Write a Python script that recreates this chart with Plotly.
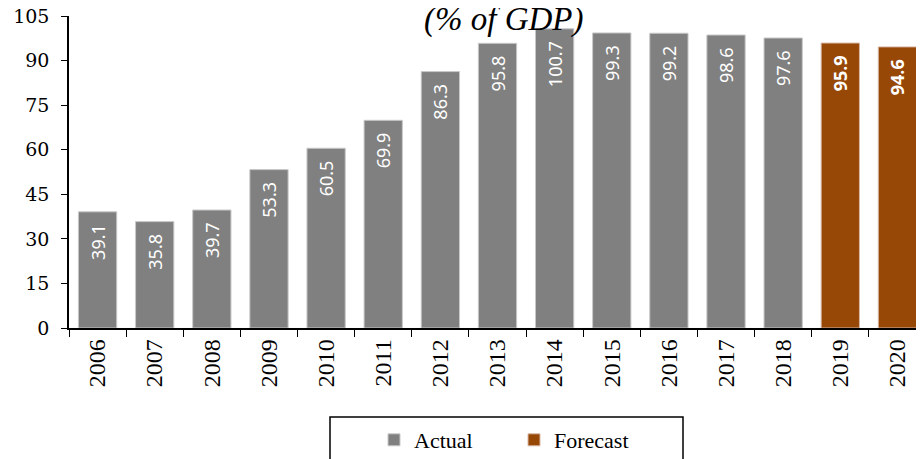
import plotly.graph_objects as go

years = [str(y) for y in range(2006, 2021)]
actual_years = years[:13]
actual_vals = [39.1, 35.8, 39.7, 53.3, 60.5, 69.9, 86.3, 95.8, 100.7, 99.3, 99.2, 98.6, 97.6]
forecast_years = years[13:]
forecast_vals = [95.9, 94.6]
y_ticks = [0, 15, 30, 45, 60, 75, 90, 105]

SERIF = "Liberation Serif"
YSERIF = "DejaVu Serif"
SANS = "Noto Sans"
PAD = "\u00a0\u00a0"

OFF = 8  # page body margin
W, H = 924, 459
# desired page coordinates of the plot area
PL, PT, PR, PB = 69, 16, 926, 328
L, T = PL - OFF, PT - OFF
R = W - (PR - OFF)
B = H - (PB - OFF)
PW, PH = W - L - R, H - T - B


def px_x(x):  # page pixel -> paper
    return (x - OFF - L) / PW


def px_y(y):
    return (PB - y) / PH


fig = go.Figure()
fig.add_trace(go.Bar(
    x=actual_years, y=actual_vals, name="Actual",
    marker=dict(color="#808080", line=dict(color="#c8c8c8", width=1)),
    text=[f"{v:.1f}{PAD}" for v in actual_vals], textposition="inside",
    insidetextanchor="end", textangle=-90,
    textfont=dict(family=SANS, size=18, color="white"),
))
fig.add_trace(go.Bar(
    x=forecast_years, y=forecast_vals, name="Forecast",
    marker=dict(color="#974706", line=dict(color="#d8b8a8", width=1)),
    text=[f"<b>{v:.1f}</b>{PAD}" for v in forecast_vals], textposition="inside",
    insidetextanchor="end", textangle=-90,
    textfont=dict(family=SANS, size=18, color="white"),
))

fig.update_layout(
    width=W, height=H,
    margin=dict(l=L, r=R, t=T, b=B, autoexpand=False),
    paper_bgcolor="white", plot_bgcolor="white",
    barmode="overlay", bargap=0.33,
    uniformtext=dict(minsize=18, mode="show"),
    showlegend=True,
    legend=dict(orientation="h", x=px_x(374), xanchor="left", y=px_y(419), yanchor="top",
                borderwidth=0, bgcolor="rgba(0,0,0,0)",
                font=dict(family=SERIF, size=22, color="black"),
                entrywidth=95, itemwidth=30,
                traceorder="normal"),
    xaxis=dict(type="category", categoryorder="array", categoryarray=years,
               automargin=False,
               showline=True, linecolor="black", linewidth=1.5,
               ticks="outside", tickson="boundaries", ticklen=7, tickcolor="black",
               tickangle=-90, tickfont=dict(family=SERIF, size=24, color="black"),
               showgrid=False),
    yaxis=dict(range=[0, 105], tickvals=y_ticks, automargin=False,
               ticklabeloverflow="allow", ticklabelstandoff=8,
               showline=True, linecolor="black",
               linewidth=1.5, ticks="outside", ticklen=6, tickcolor="black",
               tickfont=dict(family=YSERIF, size=19, color="black"),
               showgrid=False, zeroline=False),
)

# legend frame
fig.add_shape(type="rect", xref="paper", yref="paper",
              x0=px_x(330), x1=px_x(683), y0=px_y(417), y1=px_y(480),
              line=dict(color="black", width=1.5), fillcolor="rgba(0,0,0,0)")

fig.add_annotation(text="<i>(% of GDP)</i>", xref="paper", yref="paper",
                   x=px_x(503), y=px_y(40), xanchor="center", yanchor="bottom",
                   showarrow=False, font=dict(family=SERIF, size=33, color="black"))

fig.write_html("out.html")
